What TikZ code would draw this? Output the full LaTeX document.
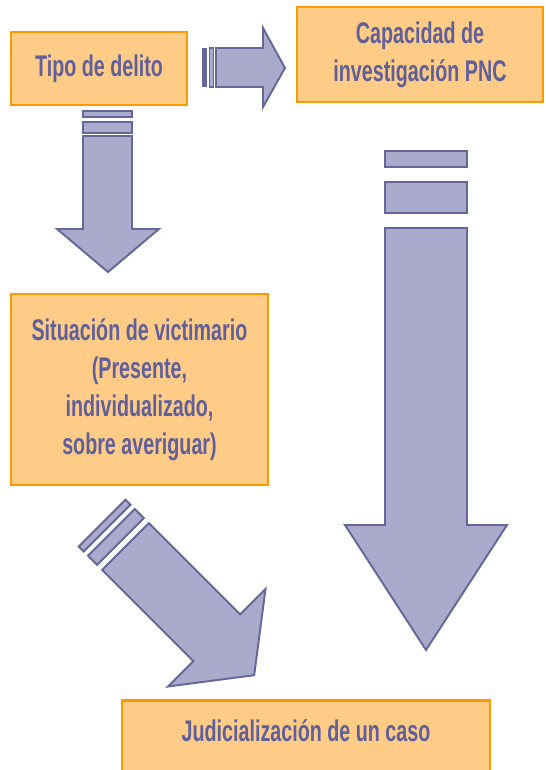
\documentclass[tikz,border=0pt]{standalone}
\usepackage{fontspec}
\newfontfamily\boxfont[FakeStretch=0.66]{Liberation Sans}
\usepackage{tikz}
\usepackage{xcolor}

\definecolor{boxfill}{HTML}{FFCC88}
\definecolor{boxline}{HTML}{FF9900}
\definecolor{arrowfill}{HTML}{AAAACC}
\definecolor{arrowline}{HTML}{666699}
\definecolor{boxtext}{HTML}{5F5F99}

\begin{document}
\begin{tikzpicture}[x=0.02cm,y=-0.02cm,
  box/.style={draw=boxline,fill=boxfill,line width=1.6pt,inner sep=0pt,
    text=boxtext,font=\boxfont\bfseries\fontsize{17pt}{21.6pt}\selectfont},
  blockarrow/.style={draw=arrowline,fill=arrowfill,line width=1.1pt,line join=miter}]

  \clip (0,0) rectangle (545,770);

  % boxes
  \node[box,minimum width=3.52cm,minimum height=1.46cm] (tipo) at (99,68.5) {Tipo de delito};
  \node[box,minimum width=4.92cm,minimum height=1.9cm,align=center] (capacidad) at (420,54.5)
    {Capacidad de\\investigación PNC};
  \node[box,minimum width=5.14cm,minimum height=3.82cm,align=center] (situacion) at (139.5,389.5)
    {Situación de victimario\\(Presente,\\individualizado,\\sobre averiguar)};
  \node[box,anchor=north,minimum width=7.36cm,text height=0.82cm,text depth=1.6cm] (judicial) at (306,699)
    {Judicialización de un caso};

  % tipo -> capacidad
  \fill[arrowline] (202,48) rectangle (207,87);
  \draw[blockarrow] (209.5,48) rectangle (213.5,87);
  \draw[blockarrow] (216,48) -- (263,48) -- (263,28) -- (285,68) -- (263,107) -- (263,87) -- (216,87) -- cycle;

  % tipo -> situacion
  \draw[blockarrow] (83,111) rectangle (132,117);
  \draw[blockarrow] (83,122) rectangle (132,133);
  \draw[blockarrow] (83,136) -- (132,136) -- (132,229) -- (159,229) -- (108,272) -- (57,229) -- (83,229) -- cycle;

  % capacidad -> judicial
  \draw[blockarrow] (385,151) rectangle (467,167);
  \draw[blockarrow] (385,182) rectangle (467,213);
  \draw[blockarrow] (385,228) -- (467,228) -- (467,525) -- (507,525) -- (426,650) -- (345,525) -- (385,525) -- cycle;

  % situacion -> judicial
  \begin{scope}[shift={(125.5,546.5)},rotate=-45]
    \draw[blockarrow] (-33,-33) -- (-26,-33) -- (-26,33) -- (-33,33) -- cycle;
    \draw[blockarrow] (-20,-33) -- (-7,-33) -- (-7,33) -- (-20,33) -- cycle;
    \draw[blockarrow] (0,-33) -- (129,-33) -- (129,-69) -- (182,0) -- (129,69) -- (129,33) -- (0,33) -- cycle;
  \end{scope}

\end{tikzpicture}
\end{document}
